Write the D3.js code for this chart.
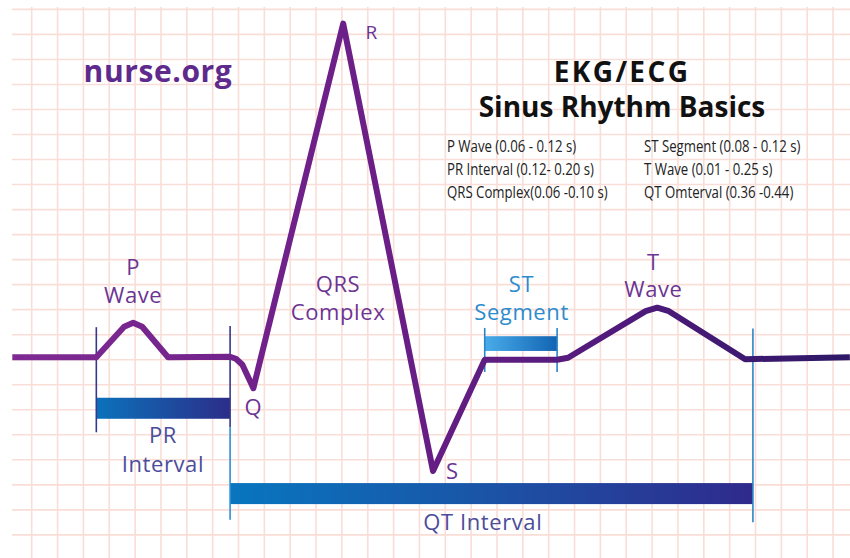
<!DOCTYPE html>
<html><head><meta charset="utf-8">
<script src="https://cdn.jsdelivr.net/npm/d3@7"></script>
<style>
html,body{margin:0;padding:0;background:#fff;}
svg{display:block;}
</style></head>
<body>
<svg id="chart" width="850" height="558"></svg>
<script>
// ---- data (time in seconds, amplitude in mV) ----
const waveTime = [-0.030, 0.100, 0.143, 0.157, 0.171, 0.211, 0.307, 0.316, 0.326, 0.343, 0.482, 0.621, 0.701, 0.813, 0.830, 0.950, 0.968, 0.986, 1.104, 1.266];
const waveMV   = [ 0.010, 0.010, 0.132, 0.148, 0.132, 0.010, 0.012, 0.004, -0.020, -0.114, 1.343, -0.445, 0.000, 0.000, 0.008, 0.194, 0.208, 0.194, 0.002, 0.010];

const intervalNames = ["PR", "ST", "QT"];
const intervalStart = [0.100, 0.701, 0.307];
const intervalEnd   = [0.307, 0.813, 1.116];

const legendLeft  = ["P Wave (0.06 - 0.12 s)", "PR Interval (0.12- 0.20 s)", "QRS Complex(0.06 -0.10 s)"];
const legendRight = ["ST Segment (0.08 - 0.12 s)", "T Wave (0.01 - 0.25 s)", "QT Omterval (0.36 -0.44)"];
const titleLines  = ["EKG/ECG", "Sinus Rhythm Basics"];
const brand = "nurse.org";

// ---- scales ----
const x = d3.scaleLinear().domain([0, 1.24]).range([31.7, 833.05]);
const y = d3.scaleLinear().domain([-0.8, 1.4]).range([559.9, 9.4]);

const svg = d3.select("#chart");
const defs = svg.append("defs");

function grad(id, x1, x2, stops) {
  const g = defs.append("linearGradient").attr("id", id)
    .attr("gradientUnits", "userSpaceOnUse")
    .attr("x1", x1).attr("x2", x2).attr("y1", 0).attr("y2", 0);
  stops.forEach(s => g.append("stop").attr("offset", s[0]).attr("stop-color", s[1]));
}
grad("waveGrad", 12, 850, [[0, "#7f2a93"], [0.45, "#6a1e86"], [0.75, "#4d1a7a"], [1, "#2e1867"]]);
grad("bar_PR", x(intervalStart[0]), x(intervalEnd[0]), [[0, "#0b72bb"], [1, "#2c2d88"]]);
grad("bar_ST", x(intervalStart[1]), x(intervalEnd[1]), [[0, "#49acea"], [1, "#1264b2"]]);
grad("bar_QT", x(intervalStart[2]), x(intervalEnd[2]), [[0, "#0876bf"], [0.5, "#1b53a6"], [1, "#2f2a8c"]]);

// ---- grid ----
const grid = svg.append("g").attr("stroke", "#f9ddd7").attr("stroke-width", 1.6);
d3.range(0, 31.5).map(k => k * 0.04).forEach(t => {
  grid.append("line").attr("x1", x(t)).attr("x2", x(t)).attr("y1", 7).attr("y2", 558);
});
d3.range(-7, 14.5).map(k => k * 0.1).forEach(v => {
  grid.append("line").attr("x1", 12).attr("x2", 850).attr("y1", y(v)).attr("y2", y(v));
});

// ---- interval bars ----
const barBand = { PR: [-0.152, -0.236], ST: [0.094, 0.035], QT: [-0.493, -0.577] };
intervalNames.forEach((n, i) => {
  const b = barBand[n];
  svg.append("rect")
    .attr("x", x(intervalStart[i])).attr("width", x(intervalEnd[i]) - x(intervalStart[i]))
    .attr("y", y(b[0])).attr("height", y(b[1]) - y(b[0]))
    .attr("fill", `url(#bar_${n})`);
});

// marker lines
const mk = svg.append("g").attr("stroke-width", 1.6);
mk.append("line").attr("x1", x(0.100)).attr("x2", x(0.100)).attr("y1", y(0.13)).attr("y2", y(-0.29)).attr("stroke", "#36388c");
mk.append("line").attr("x1", x(0.307)).attr("x2", x(0.307)).attr("y1", y(0.135)).attr("y2", y(-0.27)).attr("stroke", "#36388c");
mk.append("line").attr("x1", x(0.307)).attr("x2", x(0.307)).attr("y1", y(-0.27)).attr("y2", y(-0.64)).attr("stroke", "#2f8ed3");
mk.append("line").attr("x1", x(0.701)).attr("x2", x(0.701)).attr("y1", y(0.127)).attr("y2", y(-0.049)).attr("stroke", "#2a84c8");
mk.append("line").attr("x1", x(0.813)).attr("x2", x(0.813)).attr("y1", y(0.127)).attr("y2", y(-0.049)).attr("stroke", "#2a84c8");
mk.append("line").attr("x1", x(1.116)).attr("x2", x(1.116)).attr("y1", y(0.125)).attr("y2", y(-0.65)).attr("stroke", "#2a86c9");

// ---- waveform ----
const line = d3.line().x((d, i) => x(waveTime[i])).y((d, i) => y(waveMV[i])).curve(d3.curveLinear);
svg.append("path").datum(waveTime).attr("d", line)
  .attr("fill", "none").attr("stroke", "url(#waveGrad)").attr("stroke-width", 6)
  .attr("stroke-linejoin", "round").attr("stroke-linecap", "butt");

// ---- labels ----
const lbl = (t, v, text, color, size) => svg.append("text")
  .attr("x", x(t)).attr("y", y(v)).attr("text-anchor", "middle")
  .attr("font-family", "'Open Sans', sans-serif").attr("font-size", size || 22)
  .attr("letter-spacing", 0.6)
  .attr("fill", color).text(text);

const purple = "#6c3593", blue = "#2d8ccd", indigo = "#4b4c9c";
lbl(0.157, 0.338, "P", purple);
lbl(0.157, 0.226, "Wave", purple);
lbl(0.343, -0.222, "Q", purple);
lbl(0.526, 1.282, "R", purple, 19);
lbl(0.651, -0.476, "S", purple);
lbl(0.474, 0.272, "QRS", purple);
lbl(0.474, 0.158, "Complex", purple);
lbl(0.758, 0.270, "ST", blue);
lbl(0.758, 0.158, "Segment", blue);
lbl(0.962, 0.358, "T", purple);
lbl(0.962, 0.250, "Wave", purple);
lbl(0.203, -0.333, "PR", indigo);
lbl(0.203, -0.449, "Interval", indigo);
lbl(0.698, -0.682, "QT Interval", indigo);

// brand
svg.append("text").attr("x", 158).attr("y", 82).attr("text-anchor", "middle")
  .attr("font-family", "'Open Sans', sans-serif").attr("font-weight", 700).attr("font-size", 30)
  .attr("letter-spacing", 0.6)
  .attr("fill", "#5f2a8d").text(brand);

// title
const titleSpacing = [2.4, 0];
titleLines.forEach((t, i) => svg.append("text")
  .attr("x", 622).attr("y", 82 + i * 35).attr("text-anchor", "middle")
  .attr("font-family", "'Open Sans', sans-serif").attr("font-weight", 700).attr("font-size", 28)
  .attr("letter-spacing", titleSpacing[i])
  .attr("fill", "#111").text(t));

// legend (condensed)
const leg = svg.append("g").attr("font-family", "'Open Sans', sans-serif").attr("font-size", 16.5).attr("fill", "#222");
[[legendLeft, 447], [legendRight, 644]].forEach(([arr, lx]) => {
  arr.forEach((t, i) => {
    leg.append("text").attr("transform", `translate(${lx},${152 + i * 23}) scale(0.8,1)`).text(t);
  });
});
</script>
</body></html>
